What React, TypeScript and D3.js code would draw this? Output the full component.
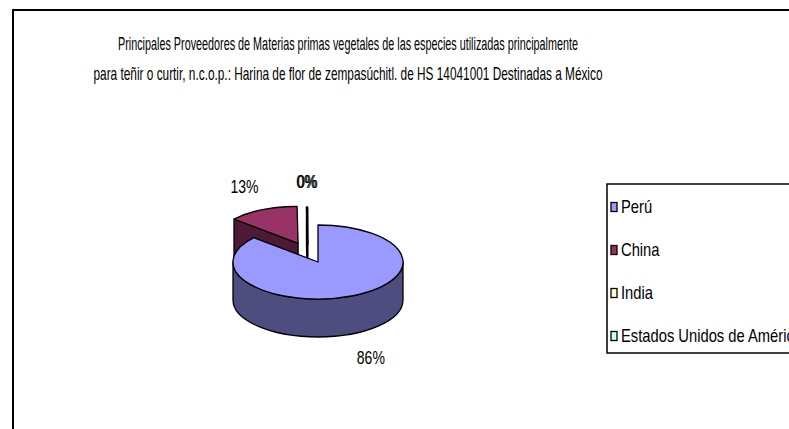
import React from "react";
import * as d3 from "d3";

const countries = ["Perú", "China", "India", "Estados Unidos de América"];
const shares = [86.4, 13.4, 0.12, 0.08];
const topColors = ["#9999FF", "#993366", "#FFFFCC", "#CCFFFF"];
const sideColors = ["#4D4D80", "#4D1A33", "#80806A", "#6A8080"];
const titleLines = [
  "Principales Proveedores de Materias primas vegetales de las especies utilizadas principalmente",
  "para teñir o curtir, n.c.o.p.: Harina de flor de zempasúchitl. de HS 14041001 Destinadas a México",
];

const W = 789;
const H = 429;
const CX = 318;
const CY = 262;
const RX = 85;
const RY = 37;
const DEPTH = 38;
const EXPLODE = [0, 0.557, 0.5, 0.5];
const EXPLODE_TILT = [0, 0, -0.24, -0.24];
const FONT = "'Liberation Sans', Arial, sans-serif";

type P = [number, number];

function rim(c: P, a: number, dy = 0): P {
  return [c[0] + RX * Math.sin(a), c[1] - RY * Math.cos(a) + dy];
}

function arcSeg(c: P, a0: number, a1: number, dy: number): string {
  const n = Math.max(1, Math.ceil(Math.abs(a1 - a0) / (Math.PI / 2)));
  const sweep = a1 > a0 ? 1 : 0;
  let s = "";
  for (let i = 1; i <= n; i++) {
    const a = a0 + ((a1 - a0) * i) / n;
    const p = rim(c, a, dy);
    s += ` A ${RX} ${RY} 0 0 ${sweep} ${p[0]} ${p[1]}`;
  }
  return s;
}

function NText(props: { x: number; y: number; size: number; sx: number; anchor?: string; children: React.ReactNode }) {
  const { x, y, size, sx, anchor = "start", children } = props;
  return (
    <text
      transform={`translate(${x},${y}) scale(${sx},1)`}
      dy="0.36em"
      textAnchor={anchor as any}
      fontSize={size}
      fontFamily={FONT}
      fill="#000"
    >
      {children}
    </text>
  );
}

export default function App() {
  const total = d3.sum(shares);
  const pie = d3
    .pie<number>()
    .sort(null)
    .startAngle(0)
    .endAngle(2 * Math.PI)
    .value((d) => d);
  const arcs = pie(shares);

  const slices = arcs.map((a, i) => {
    const mid = (a.startAngle + a.endAngle) / 2;
    const dir = mid + EXPLODE_TILT[i];
    const c: P = [
      CX + EXPLODE[i] * RX * Math.sin(dir),
      CY - EXPLODE[i] * RY * Math.cos(dir),
    ];
    return { i, a0: a.startAngle, a1: a.endAngle, mid, c };
  });

  const order = [...slices].sort((p, q) => Math.cos(q.mid) - Math.cos(p.mid));

  const stroke = "#000";
  const sw = 1.3;

  const renderSlice = (s: (typeof slices)[number]) => {
    const { i, a0, a1, c } = s;
    const els: React.ReactNode[] = [];
    const face = (a: number, key: string) => {
      const r0 = rim(c, a);
      const r1 = rim(c, a, DEPTH);
      const d = `M ${c[0]} ${c[1]} L ${r0[0]} ${r0[1]} L ${r1[0]} ${r1[1]} L ${c[0]} ${c[1] + DEPTH} Z`;
      els.push(
        <path key={key} d={d} fill={sideColors[i]} stroke={stroke} strokeWidth={sw} strokeLinejoin="round" />
      );
    };
    if (Math.sin(a0) < -1e-9) face(a0, "f0");
    if (Math.sin(a1) > 1e-9) face(a1, "f1");
    const ws = Math.max(a0, Math.PI / 2);
    const we = Math.min(a1, (3 * Math.PI) / 2);
    if (we > ws) {
      const p0 = rim(c, ws);
      const p1 = rim(c, we, DEPTH);
      const d =
        `M ${p0[0]} ${p0[1]}` +
        arcSeg(c, ws, we, 0) +
        ` L ${p1[0]} ${p1[1]}` +
        arcSeg(c, we, ws, DEPTH) +
        " Z";
      els.push(
        <path key="w" d={d} fill={sideColors[i]} stroke={stroke} strokeWidth={sw} strokeLinejoin="round" />
      );
    }
    const t0 = rim(c, a0);
    const dTop = `M ${c[0]} ${c[1]} L ${t0[0]} ${t0[1]}` + arcSeg(c, a0, a1, 0) + " Z";
    els.push(
      <path key="t" d={dTop} fill={topColors[i]} stroke={stroke} strokeWidth={sw} strokeLinejoin="round" />
    );
    return <g key={i}>{els}</g>;
  };

  const labels = slices.map((s) => {
    const sin = Math.sin(s.mid);
    const cos = Math.cos(s.mid);
    const x = s.c[0] + 1.5 * RX * sin;
    const y = s.c[1] - 1.7 * RY * cos + (cos < 0 ? DEPTH : 0);
    return (
      <NText key={s.i} x={x} y={y} size={18} sx={0.78} anchor="middle">
        {`${Math.round((shares[s.i] / total) * 100)}%`}
      </NText>
    );
  });

  const legendY = d3.scaleLinear().domain([0, 1]).range([207, 250]);

  return (
    <svg width={W} height={H} style={{ position: "absolute", left: 0, top: 0, background: "#fff" }}>
      <rect x={0} y={0} width={W} height={H} fill="#fff" />
      <rect x={13} y={10} width={W + 20} height={H + 20} fill="#fff" stroke="#000" strokeWidth={2} />
      {titleLines.map((t, k) => (
        <text
          key={k}
          x={348}
          y={49.5 + k * 30}
          textAnchor="middle"
          fontSize={18.5}
          fontFamily={FONT}
          textLength={k === 0 ? 460 : 509}
          lengthAdjust="spacingAndGlyphs"
          fill="#000"
        >
          {t}
        </text>
      ))}
      {order.map(renderSlice)}
      {labels}
      <rect x={607} y={184} width={250} height={169} fill="#fff" stroke="#000" strokeWidth={1.5} />
      {countries.map((name, i) => (
        <g key={name}>
          <rect x={611} y={legendY(i) - 4.5} width={6} height={9} fill={topColors[i]} stroke="#000" strokeWidth={1.3} />
          <NText x={621} y={legendY(i)} size={18} sx={0.82}>
            {name}
          </NText>
        </g>
      ))}
    </svg>
  );
}
